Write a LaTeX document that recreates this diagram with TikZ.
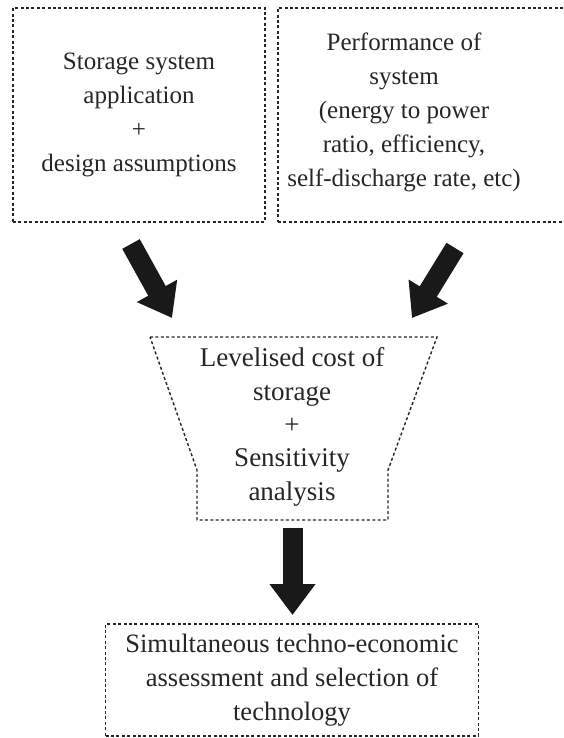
\documentclass[tikz,border=0pt]{standalone}
\usepackage{fontspec}
\setmainfont{Liberation Serif}
\usetikzlibrary{arrows.meta}

\tikzset{
  dashbox/.style={draw=black!85, line width=1.4pt, dash pattern=on 3pt off 2.4pt},
  boxtext/.style={align=center, text=black!85, font=\fontsize{25}{34}\selectfont},
  fatarrow/.style={line width=20pt, draw=black!90, -{Triangle[width=44pt,length=31pt]}}
}

\begin{document}
\begin{tikzpicture}[x=1pt,y=-1pt]
  \useasboundingbox (0,0) rectangle (564,738);
  \clip (0,0) rectangle (564,738);

  % input boxes
  \node[dashbox, boxtext, minimum width=252pt, minimum height=214pt] (app) at (139,115)
    {Storage system\\application\\+\\design assumptions};
  \node[dashbox, minimum width=292pt, minimum height=214pt] (perf) at (424,115) {};
  \node[boxtext] (perftext) at (404,112)
    {Performance of\\system\\(energy to power\\ratio, efficiency,\\self-discharge rate, etc)};

  % funnel
  \node[boxtext, font=\fontsize{27}{33.3}\selectfont] (lcos) at (292,427)
    {Levelised cost of\\storage\\+\\Sensitivity\\analysis};
  \draw[dashbox] (150,337) -- (437,337) -- (388,470) -- (388,520)
    -- (197,520) -- (197,470) -- cycle;

  % output box
  \node[dashbox, boxtext, font=\fontsize{26.5}{34}\selectfont,
        minimum width=373pt, minimum height=112pt] (select) at (292,680)
    {Simultaneous techno-economic\\assessment and selection of\\technology};

  % arrows
  \coordinate (leftin) at (131,244);
  \coordinate (lefttip) at (172,318);
  \coordinate (rightin) at (455,248);
  \coordinate (righttip) at (412,318);
  \coordinate (downin) at (292.5,528);
  \coordinate (downtip) at (292.5,615);
  \draw[fatarrow] (leftin) -- (lefttip);
  \draw[fatarrow] (rightin) -- (righttip);
  \draw[fatarrow] (downin) -- (downtip);
\end{tikzpicture}
\end{document}
